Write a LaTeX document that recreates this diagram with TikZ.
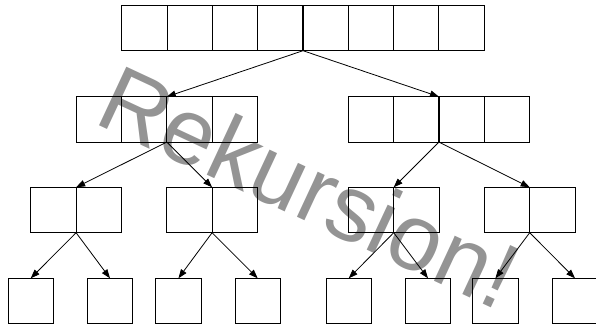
\documentclass[tikz,border=0pt]{standalone}
\usepackage{fontspec}
\newfontfamily\wmfont{Liberation Sans}
\usetikzlibrary{arrows.meta}
\tikzset{
  cell/.style={draw, line width=0.9pt, minimum width=45.4pt, minimum height=45.4pt,
    inner sep=0pt, outer sep=0pt, anchor=north west},
  arr/.style={-{Triangle[length=9pt,width=6.5pt]}, line width=0.8pt},
  wm/.style={inner sep=0pt, text=black, text opacity=0.42,
    font=\wmfont\fontsize{94}{94}\selectfont}
}
\begin{document}
\begin{tikzpicture}[x=1pt,y=1pt]
\useasboundingbox (0,0) rectangle (596,-324);
% level 0
\foreach \i in {0,...,7} \node[cell] (t\i) at ({121.7+45.3*\i},-5.3) {};
% level 1
\foreach \i in {0,...,3} {
  \node[cell] (a\i) at ({76+45.4*\i},-96.7) {};
  \node[cell] (b\i) at ({348.3+45.25*\i},-96.7) {};
}
% level 2
\foreach \n/\x in {c/30.7, d/166.7, e/348.3, f/484.3} {
  \node[cell] (\n0) at (\x,-187.3) {};
  \node[cell] (\n1) at ({\x+45.4},-187.3) {};
}
% level 3
\foreach \n/\x in {l1/8, l2/87.3, l3/155.7, l4/235, l5/326, l6/405.3, l7/472.7, l8/552.3}
  \node[cell] (\n) at (\x,-278.3) {};
% arrows
\draw[arr] (t3.south east) -- (a1.north east);
\draw[arr] (t3.south east) -- (b1.north east);
\draw[arr] (a1.south east) -- (c0.north east);
\draw[arr] (a1.south east) -- (d0.north east);
\draw[arr] (b1.south east) -- (e0.north east);
\draw[arr] (b1.south east) -- (f0.north east);
\draw[arr] (c0.south east) -- (l1.north);
\draw[arr] (c0.south east) -- (l2.north);
\draw[arr] (d0.south east) -- (l3.north);
\draw[arr] (d0.south east) -- (l4.north);
\draw[arr] (e0.south east) -- (l5.north);
\draw[arr] (e0.south east) -- (l6.north);
\draw[arr] (f0.south east) -- (l7.north);
\draw[arr] (f0.south east) -- (l8.north);
% watermark
\node[wm, rotate=-25, anchor=base west] (w) at (92,-122) {Rekursion!};
\end{tikzpicture}
\end{document}
